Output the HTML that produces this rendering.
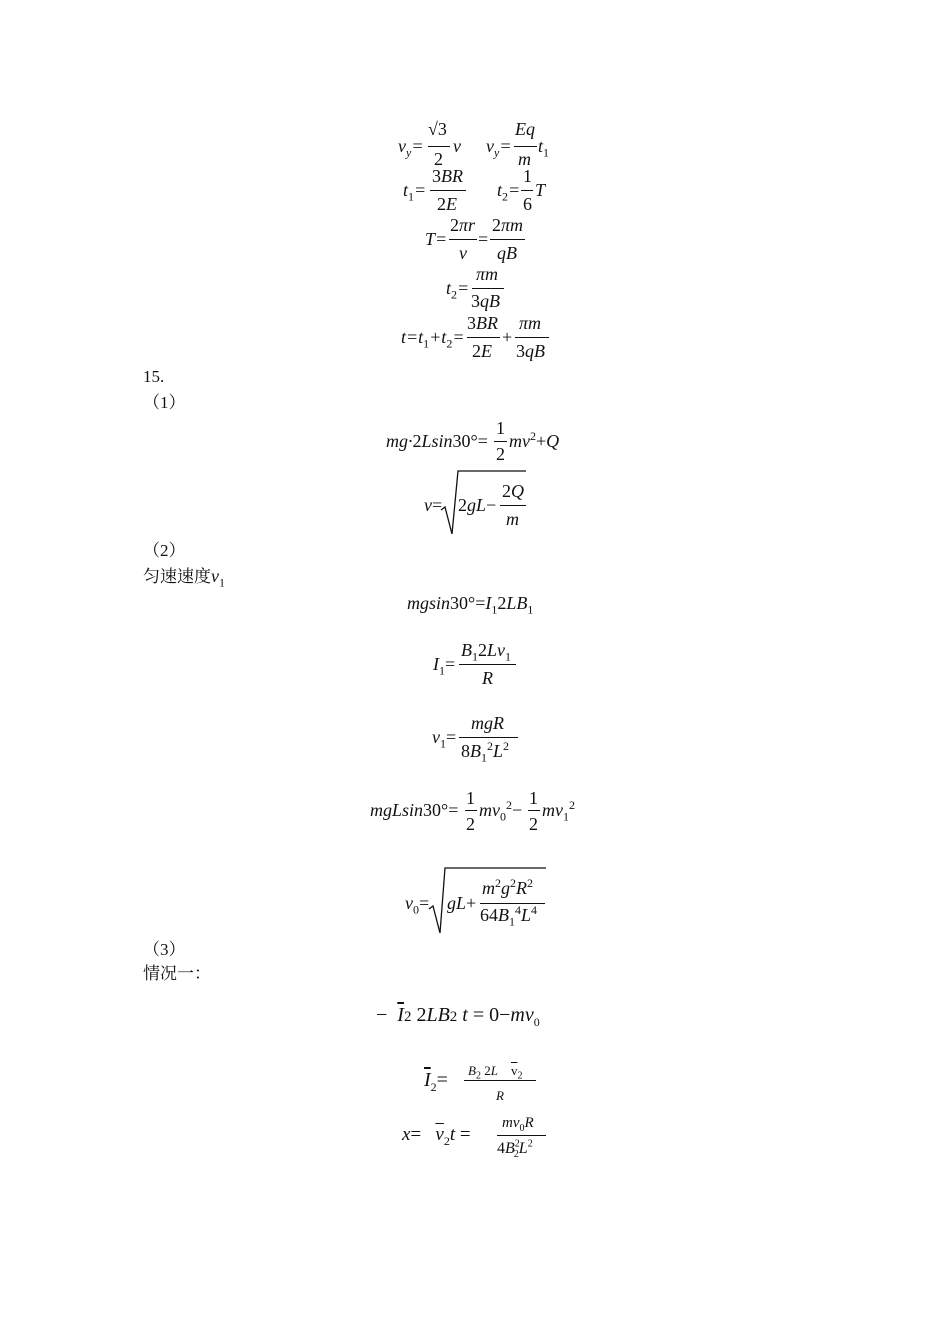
<!DOCTYPE html>
<html><head><meta charset="utf-8"><style>
body{margin:0;background:#fff;}
#p{position:relative;width:950px;height:1344px;background:#fff;font-family:"Liberation Serif","Noto Serif CJK SC",serif;color:#111;}
.t{position:absolute;font-size:18px;line-height:18px;white-space:nowrap;}
.i{font-style:italic;}
.b{position:absolute;height:1px;background:#111;}
sub,sup{font-size:12px;line-height:0;}
.c{font-family:"Liberation Serif","Noto Serif CJK SC",serif;font-size:17px;}
.ov{text-decoration:overline;}
</style></head><body><div id="p">
<!-- row1 -->
<div class="t i" style="left:398px;top:137px">v<sub>y</sub>=</div>
<div class="b" style="left:428px;top:146px;width:22px"></div>
<div class="t" style="left:428px;top:120px">√3</div>
<div class="t" style="left:434px;top:150px">2</div>
<div class="t i" style="left:453px;top:137px">v</div>
<div class="t i" style="left:486px;top:137px">v<sub>y</sub>=</div>
<div class="b" style="left:514px;top:146px;width:23px"></div>
<div class="t i" style="left:515px;top:120px">Eq</div>
<div class="t i" style="left:518px;top:150px">m</div>
<div class="t i" style="left:538px;top:137px">t<sub style="font-style:normal">1</sub></div>
<!-- row2 -->
<div class="t i" style="left:403px;top:181px">t<sub style="font-style:normal">1</sub>=</div>
<div class="b" style="left:430px;top:190px;width:36px"></div>
<div class="t i" style="left:432px;top:167px"><span style="font-style:normal">3</span>BR</div>
<div class="t i" style="left:437px;top:195px"><span style="font-style:normal">2</span>E</div>
<div class="t i" style="left:497px;top:181px">t<sub style="font-style:normal">2</sub>=</div>
<div class="b" style="left:521px;top:190px;width:12px"></div>
<div class="t" style="left:523px;top:167px">1</div>
<div class="t" style="left:523px;top:195px">6</div>
<div class="t i" style="left:535px;top:181px">T</div>
<!-- row3 -->
<div class="t i" style="left:425px;top:230px">T=</div>
<div class="b" style="left:449px;top:239px;width:28px"></div>
<div class="t i" style="left:450px;top:216px"><span style="font-style:normal">2</span>πr</div>
<div class="t i" style="left:459px;top:244px">v</div>
<div class="t" style="left:478px;top:230px">=</div>
<div class="b" style="left:490px;top:239px;width:35px"></div>
<div class="t i" style="left:492px;top:216px"><span style="font-style:normal">2</span>πm</div>
<div class="t i" style="left:497px;top:244px">qB</div>
<!-- row4 -->
<div class="t i" style="left:446px;top:279px">t<sub style="font-style:normal">2</sub>=</div>
<div class="b" style="left:472px;top:288px;width:32px"></div>
<div class="t i" style="left:476px;top:265px">πm</div>
<div class="t i" style="left:471px;top:292px"><span style="font-style:normal">3</span>qB</div>
<!-- row5 -->
<div class="t i" style="left:401px;top:328px">t=t<sub style="font-style:normal">1</sub>+t<sub style="font-style:normal">2</sub>=</div>
<div class="b" style="left:467px;top:337px;width:33px"></div>
<div class="t i" style="left:467px;top:314px"><span style="font-style:normal">3</span>BR</div>
<div class="t i" style="left:472px;top:342px"><span style="font-style:normal">2</span>E</div>
<div class="t" style="left:502px;top:328px">+</div>
<div class="b" style="left:515px;top:337px;width:34px"></div>
<div class="t i" style="left:519px;top:314px">πm</div>
<div class="t i" style="left:516px;top:342px"><span style="font-style:normal">3</span>qB</div>

<div class="t c" style="left:143px;top:368px">15.</div>
<div class="t c" style="left:143px;top:394px">（1）</div>
<!-- eq mg2Lsin -->
<div class="t i" style="left:386px;top:432px">mg·<span style="font-style:normal">2</span>Lsin<span style="font-style:normal">30°=</span></div>
<div class="b" style="left:494px;top:441px;width:13px"></div>
<div class="t" style="left:496px;top:419px">1</div>
<div class="t" style="left:496px;top:445px">2</div>
<div class="t i" style="left:509px;top:432px">mv<sup style="font-style:normal">2</sup><span style="font-style:normal">+</span>Q</div>
<!-- sqrt v -->
<div class="t i" style="left:424px;top:496px">v<span style="font-style:normal">=</span></div>
<svg style="position:absolute;left:440px;top:470px" width="90" height="68"><polyline points="1,40 5,37 12,64 18,1 86,1" fill="none" stroke="#111" stroke-width="1.3"/></svg>
<div class="t i" style="left:458px;top:496px"><span style="font-style:normal">2</span>gL<span style="font-style:normal">−</span></div>
<div class="b" style="left:500px;top:505px;width:26px"></div>
<div class="t i" style="left:502px;top:482px"><span style="font-style:normal">2</span>Q</div>
<div class="t i" style="left:506px;top:510px">m</div>

<div class="t c" style="left:143px;top:542px">（2）</div>
<div class="t c" style="left:143px;top:567px">匀速速度<span class="i" style="font-size:18px">v</span><sub>1</sub></div>
<div class="t i" style="left:407px;top:594px">mgsin<span style="font-style:normal">30°=</span>I<sub style="font-style:normal">1</sub><span style="font-style:normal">2</span>LB<sub style="font-style:normal">1</sub></div>
<!-- I1 -->
<div class="t i" style="left:433px;top:655px">I<sub style="font-style:normal">1</sub><span style="font-style:normal">=</span></div>
<div class="b" style="left:459px;top:664px;width:57px"></div>
<div class="t i" style="left:461px;top:641px">B<sub style="font-style:normal">1</sub><span style="font-style:normal">2</span>Lv<sub style="font-style:normal">1</sub></div>
<div class="t i" style="left:482px;top:669px">R</div>
<!-- v1 -->
<div class="t i" style="left:432px;top:728px">v<sub style="font-style:normal">1</sub><span style="font-style:normal">=</span></div>
<div class="b" style="left:459px;top:737px;width:59px"></div>
<div class="t i" style="left:471px;top:714px">mgR</div>
<div class="t i" style="left:461px;top:742px"><span style="font-style:normal">8</span>B<sub style="font-style:normal">1</sub><sup style="font-style:normal">2</sup>L<sup style="font-style:normal">2</sup></div>
<!-- energy -->
<div class="t i" style="left:370px;top:801px">mgLsin<span style="font-style:normal">30°=</span></div>
<div class="b" style="left:465px;top:810px;width:12px"></div>
<div class="t" style="left:466px;top:789px">1</div>
<div class="t" style="left:466px;top:815px">2</div>
<div class="t i" style="left:479px;top:801px">mv<sub style="font-style:normal">0</sub><sup style="font-style:normal">2</sup><span style="font-style:normal">−</span></div>
<div class="b" style="left:528px;top:810px;width:12px"></div>
<div class="t" style="left:529px;top:789px">1</div>
<div class="t" style="left:529px;top:815px">2</div>
<div class="t i" style="left:542px;top:801px">mv<sub style="font-style:normal">1</sub><sup style="font-style:normal">2</sup></div>
<!-- v0 -->
<div class="t i" style="left:405px;top:894px">v<sub style="font-style:normal">0</sub><span style="font-style:normal">=</span></div>
<svg style="position:absolute;left:428px;top:867px" width="122" height="70"><polyline points="1,42 5,39 12,66 17,1 118,1" fill="none" stroke="#111" stroke-width="1.3"/></svg>
<div class="t i" style="left:447px;top:894px">gL<span style="font-style:normal">+</span></div>
<div class="b" style="left:480px;top:903px;width:65px"></div>
<div class="t i" style="left:482px;top:879px">m<sup style="font-style:normal">2</sup>g<sup style="font-style:normal">2</sup>R<sup style="font-style:normal">2</sup></div>
<div class="t i" style="left:480px;top:906px"><span style="font-style:normal">64</span>B<sub style="font-style:normal">1</sub><sup style="font-style:normal">4</sup>L<sup style="font-style:normal">4</sup></div>

<div class="t c" style="left:143px;top:941px">（3）</div>
<div class="t c" style="left:143px;top:965px">情况一：</div>
<!-- impulse -->
<div class="t" style="left:376px;top:1005px;font-size:20px;line-height:20px">−&nbsp; <i class="ov">I</i><span style="font-size:15px">2</span> 2<i>LB</i><span style="font-size:15px">2</span> <i>t</i> = 0−<i>mv</i><sub>0</sub></div>
<!-- I2 bar -->
<div class="t i" style="left:424px;top:1071px;font-size:20px"><span class="ov">I</span><sub style="font-style:normal">2</sub><span style="font-style:normal">=</span></div>
<div class="b" style="left:464px;top:1080px;width:72px"></div>
<div class="t i" style="left:468px;top:1062px;font-size:13px">B<sub style="font-style:normal;font-size:10px">2</sub> <span style="font-style:normal">2</span>L&nbsp;&nbsp;&nbsp;&nbsp;<span style="font-style:normal" class="ov">v</span><sub style="font-style:normal;font-size:10px">2</sub></div>
<div class="t i" style="left:496px;top:1087px;font-size:13px">R</div>
<!-- x -->
<div class="t" style="left:402px;top:1126px;font-size:19px"><i>x</i>=&nbsp;&nbsp; <i class="ov">v</i><sub>2</sub><i>t</i> = </div>
<div class="b" style="left:497px;top:1135px;width:49px"></div>
<div class="t i" style="left:502px;top:1114px;font-size:15px">mv<sub style="font-style:normal;font-size:10px">0</sub>R</div>
<div class="t i" style="left:497px;top:1140px;font-size:16px"><span style="font-style:normal">4</span>B<sup style="font-style:normal;font-size:10px">2</sup><span style="font-size:10px;margin-left:-6px;position:relative;top:4px;font-style:normal">2</span>L<sup style="font-style:normal;font-size:10px">2</sup></div>
</div></body></html>
